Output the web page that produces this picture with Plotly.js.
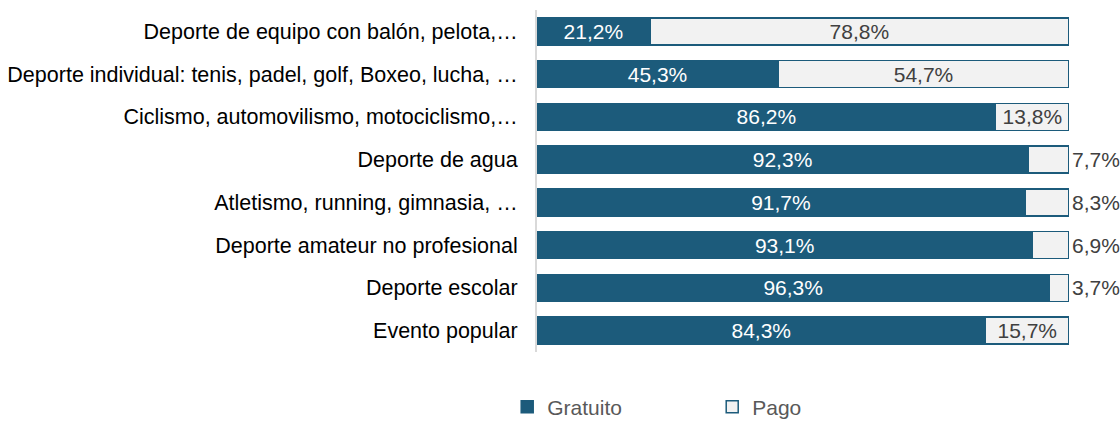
<!DOCTYPE html>
<html>
<head>
<meta charset="utf-8">
<script src="https://cdn.plot.ly/plotly-3.0.1.min.js"></script>
<style>
  html, body { margin: 0; padding: 0; background: #fff; }
  #chart { width: 1120px; height: 421px; }
</style>
</head>
<body>
<div id="chart"></div>
<script>
// Categories and values (percent)
const categories = [
    'Deporte de equipo con balón, pelota,…',
    'Deporte individual: tenis, padel, golf, Boxeo, lucha, …',
    'Ciclismo, automovilismo, motociclismo,…',
    'Deporte de agua',
    'Atletismo, running, gimnasia, …',
    'Deporte amateur no profesional',
    'Deporte escolar',
    'Evento popular'
];
const gratuito = [21.2, 45.3, 86.2, 92.3, 91.7, 93.1, 96.3, 84.3];
const pago = [78.8, 54.7, 13.8, 7.7, 8.3, 6.9, 3.7, 15.7];

const blue = '#1c5b7b';
const fontFamily = 'Liberation Sans, Arial, sans-serif';
const fontSize = 21.5;

// Format like 21,2%
function fmt(v) {
    return v.toFixed(1).replace('.', ',') + '%';
}

let gratuitoTrace = {
    type: 'bar',
    orientation: 'h',
    name: 'Gratuito',
    y: categories,
    x: gratuito,
    text: gratuito.map(fmt),
    textposition: 'inside',
    insidetextanchor: 'middle',
    insidetextfont: {family: fontFamily, size: 21, color: '#ffffff'},
    constraintext: 'none',
    hoverinfo: 'none',
    marker: {color: blue, line: {color: blue, width: 1.5}}
};

let pagoTrace = {
    type: 'bar',
    orientation: 'h',
    name: 'Pago',
    y: categories,
    x: pago,
    text: pago.map(fmt),
    textposition: pago.map(v => v < 10 ? 'outside' : 'inside'),
    insidetextanchor: 'middle',
    insidetextfont: {family: fontFamily, size: 21, color: '#404040'},
    outsidetextfont: {family: fontFamily, size: 21, color: '#404040'},
    constraintext: 'none',
    cliponaxis: false,
    hoverinfo: 'none',
    marker: {color: '#f2f2f2', line: {color: blue, width: 1.5}}
};

let layout = {
    width: 1120,
    height: 421,
    margin: {l: 537, r: 51, t: 10, b: 69, autoexpand: false},
    barmode: 'stack',
    bargap: 0.37,
    paper_bgcolor: '#ffffff',
    plot_bgcolor: '#ffffff',
    font: {family: fontFamily, size: fontSize, color: '#000000'},
    showlegend: true,
    legend: {
        orientation: 'h',
        x: -0.056,
        xanchor: 'left',
        y: -0.161,
        yanchor: 'middle',
        entrywidth: 160,
        font: {family: fontFamily, size: 21, color: '#595959'},
        traceorder: 'normal'
    },
    xaxis: {
        range: [0, 100],
        showgrid: false,
        zeroline: false,
        showticklabels: false,
        showline: false,
        fixedrange: true
    },
    yaxis: {
        autorange: 'reversed',
        showgrid: false,
        zeroline: false,
        showline: true,
        linecolor: '#d9d9d9',
        linewidth: 2,
        ticks: 'outside',
        ticklen: 13,
        tickcolor: 'rgba(0,0,0,0)',
        tickfont: {family: fontFamily, size: fontSize, color: '#000000'},
        fixedrange: true
    }
};

Plotly.newPlot('chart', [gratuitoTrace, pagoTrace], layout, {staticPlot: true});
</script>
</body>
</html>
